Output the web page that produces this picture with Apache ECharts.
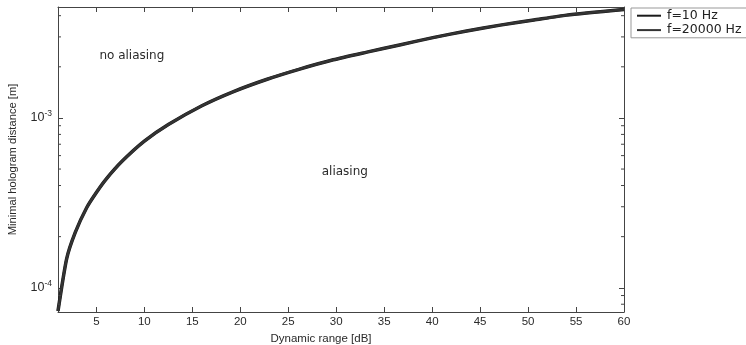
<!DOCTYPE html>
<html><head><meta charset="utf-8">
<script src="https://cdn.jsdelivr.net/npm/echarts@6/dist/echarts.min.js"></script>
<style>html,body{margin:0;padding:0;background:#fff}#c{width:746px;height:345px}</style>
</head><body><div id="c"></div>
<script>
// Data
const dynamicRange = [1, 1.9, 2.8, 4, 5, 6, 7.7, 10, 12.5, 16, 19.3, 22.8, 26.2, 29.7, 33.2, 36.6, 40.2, 43.6, 47.1, 50.6, 54, 60];
const dist10Hz    = [7.3e-5, 1.48e-4, 2.12e-4, 2.97e-4, 3.64e-4, 4.35e-4, 5.57e-4, 7.3e-4, 9.14e-4, 1.18e-3, 1.43e-3, 1.69e-3, 1.94e-3, 2.20e-3, 2.44e-3, 2.69e-3, 2.98e-3, 3.25e-3, 3.52e-3, 3.77e-3, 4.03e-3, 4.35e-3];
const dist20000Hz = [7.3e-5, 1.48e-4, 2.12e-4, 2.97e-4, 3.64e-4, 4.35e-4, 5.57e-4, 7.3e-4, 9.14e-4, 1.18e-3, 1.43e-3, 1.69e-3, 1.94e-3, 2.20e-3, 2.44e-3, 2.69e-3, 2.98e-3, 3.25e-3, 3.52e-3, 3.77e-3, 4.03e-3, 4.35e-3];
const seriesNames = ['f=10 Hz', 'f=20000 Hz'];
const xMin = 1, xMax = 60;
const yMin = 7.2e-5, yMax = 4.5e-3;
const yMinorTicks = [8e-5, 9e-5, 2e-4, 3e-4, 4e-4, 5e-4, 6e-4, 7e-4, 8e-4, 9e-4, 2e-3, 3e-3, 4e-3];
const annotations = [
  {text: 'no aliasing', x: 8.7, y: 2.32e-3},
  {text: 'aliasing', x: 30.9, y: 4.84e-4}
];

const font = '"Liberation Sans", Arial, Helvetica, sans-serif';
const wide = '"DejaVu Sans", sans-serif';
const narrow = '"Liberation Sans Narrow", "Liberation Sans", sans-serif';
const axisColor = '#444';
const txt = '#2a2a2a';

function logLabel(v) {
  const l = Math.log10(v);
  if (Math.abs(l - Math.round(l)) < 1e-6) return '10{sup|' + Math.round(l) + '}';
  return '';
}

const chart = echarts.init(document.getElementById('c'));
chart.setOption({
  animation: false,
  textStyle: {fontFamily: font},
  grid: {left: 58, right: 122, top: 7, bottom: 33, containLabel: false, outerBoundsMode: 'none'},
  legend: {
    orient: 'vertical', left: 631, top: 8,
    data: seriesNames,
    icon: 'rect', itemWidth: 24, itemHeight: 2, itemGap: 1,
    padding: [1, 40, 1, 6],
    borderColor: '#999', borderWidth: 1, borderRadius: 0,
    textStyle: {fontSize: 12.5, color: '#222', fontFamily: wide, lineHeight: 13.4, padding: [0, 0, 0, 1]}
  },
  xAxis: [{
    type: 'value', min: xMin, max: xMax, splitNumber: 12,
    name: 'Dynamic range [dB]', nameLocation: 'middle', nameGap: 18,
    nameTextStyle: {fontSize: 11.5, color: txt, fontFamily: narrow, padding: [0, 40, 0, 0]},
    axisLine: {lineStyle: {color: axisColor, width: 1}},
    axisTick: {inside: true, length: 5, lineStyle: {color: axisColor}},
    axisLabel: {fontSize: 11.5, color: txt, margin: 4, showMinLabel: false,
      formatter: v => (v % 5 === 0 ? String(v) : '')},
    splitLine: {show: false}
  }, {
    type: 'value', position: 'top', min: xMin, max: xMax, splitNumber: 12,
    axisLine: {show: true, lineStyle: {color: axisColor, width: 1}},
    axisTick: {inside: true, length: 5, lineStyle: {color: axisColor}},
    axisLabel: {show: false}, splitLine: {show: false}
  }],
  yAxis: [{
    type: 'log', logBase: 10, min: yMin, max: yMax,
    name: 'Minimal hologram distance [m]', nameLocation: 'middle', nameGap: 40,
    nameTextStyle: {fontSize: 11.2, color: txt, fontFamily: font},
    axisLine: {show: true, lineStyle: {color: axisColor, width: 1}},
    axisTick: {inside: true, length: 5, lineStyle: {color: axisColor}},
    axisLabel: {fontSize: 12.5, color: txt, margin: 6, formatter: logLabel,
      rich: {sup: {fontSize: 8.5, verticalAlign: 'top', padding: [0, 0, 9, 0], color: txt}}},
    splitLine: {show: false}
  }, {
    type: 'log', logBase: 10, min: yMin, max: yMax, position: 'right',
    axisLine: {show: true, lineStyle: {color: axisColor, width: 1}},
    axisTick: {inside: true, length: 5, lineStyle: {color: axisColor}},
    axisLabel: {show: false}, splitLine: {show: false}
  }],
  series: [{
    name: seriesNames[0], type: 'line', smooth: 0.2, showSymbol: false,
    data: dynamicRange.map((x, i) => [x, dist10Hz[i]]),
    lineStyle: {color: '#1a1a1a', width: 3.5}, itemStyle: {color: '#1a1a1a'},
    markPoint: {
      symbol: 'circle', symbolSize: 0, silent: true,
      label: {show: true, position: 'inside', fontSize: 12, color: '#2a2a2a', fontFamily: wide,
        formatter: p => p.name},
      data: annotations.map(a => ({name: a.text, coord: [a.x, a.y]}))
    }
  }, {
    name: seriesNames[1], type: 'line', smooth: 0.2, showSymbol: false,
    data: dynamicRange.map((x, i) => [x, dist20000Hz[i]]),
    lineStyle: {color: '#333', width: 2.5}, itemStyle: {color: '#333'}
  }, {
    type: 'custom', silent: true,
    data: yMinorTicks.map(v => [xMin, v]),
    encode: {x: 0, y: 1},
    renderItem: (params, api) => {
      const v = api.value(1);
      const p = api.coord([xMin, v]);
      const q = api.coord([xMax, v]);
      const st = {stroke: axisColor, lineWidth: 1};
      return {type: 'group', children: [
        {type: 'line', shape: {x1: p[0], y1: p[1], x2: p[0] + 3, y2: p[1]}, style: st},
        {type: 'line', shape: {x1: q[0] - 3, y1: q[1], x2: q[0], y2: q[1]}, style: st}
      ]};
    },
    z: 5
  }]
});
</script></body></html>
